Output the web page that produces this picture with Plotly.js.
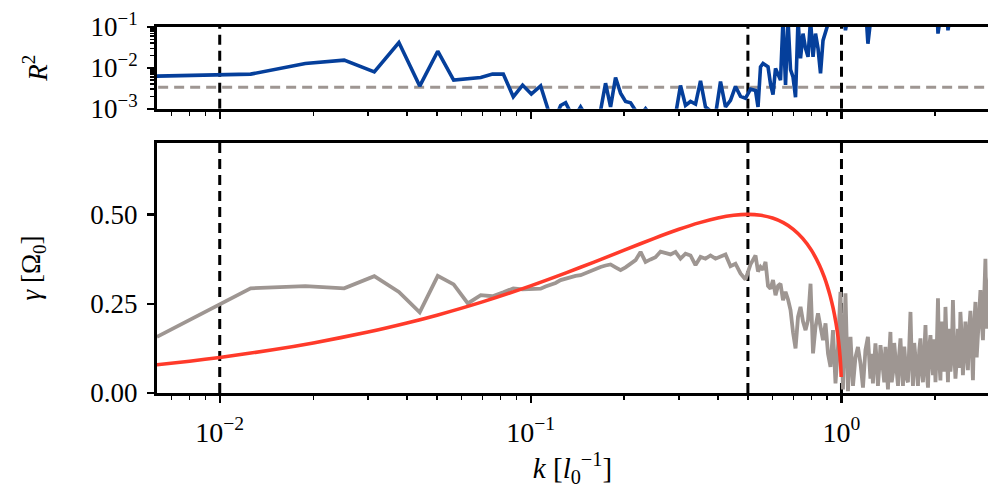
<!DOCTYPE html>
<html>
<head>
<meta charset="utf-8">
<script src="https://cdn.plot.ly/plotly-3.0.1.min.js"></script>
<style>html,body{margin:0;padding:0;background:#fff;overflow:hidden}#chart{width:988px;height:495px}</style>
</head>
<body>
<div id="chart"></div>
<script>
// wavenumber samples
const kVals = [
0.00628,0.01257,0.01885,0.02513,0.03142,0.03770,0.04398,0.05027,0.05655,0.06283,0.06912,0.07540,0.08168,0.08796,0.09425,0.10053,
0.1077,0.1117,0.1160,0.1203,0.1249,0.1296,0.1345,0.1395,0.1448,0.1502,0.1559,0.1618,0.1679,0.1742,0.1808,0.1876,0.1947,0.2020,0.2097,0.2176,0.2258,0.2343,0.2431,0.2522,0.2618,0.2716,0.2818,0.2925,0.3035,0.3150,0.3268,0.3392,0.3520,0.3652,0.3790,0.3933,0.4082,0.4236,0.4395,0.4561,0.4733,0.4912,0.5097,0.5290,
0.5389,0.5490,0.5593,0.5697,0.5803,0.5912,0.6022,0.6135,0.6250,0.6366,0.6485,0.6607,0.6730,0.6856,0.6984,0.7115,0.7248,0.7383,0.7521,0.7662,0.7805,0.7951,0.8100,0.8250,0.8404,0.8562,0.8722,0.8885,0.9051,0.9219,0.9391,0.9566,0.9745,0.9926,
1.0111,1.030,1.0492,1.069,1.0890,1.109,1.1297,1.151,1.1725,1.194,1.2163,
1.239,1.2506,1.2621,1.2739,1.286,1.2980,1.3100,1.3222,1.335,1.3475,1.3599,1.3726,1.385,1.3979,1.4109,1.4241,1.437,1.4504,1.4638,1.4775,1.492,1.5059,1.5199,1.5341,1.548,1.5624,1.5769,1.5916,1.606,1.6210,1.6360,1.6513,1.667,1.6826,1.6981,1.7139,1.730,1.7461,1.7623,1.7787,1.795,1.8117,1.8285,1.8456,1.863,1.8804,1.8978,1.9155,1.933,1.9510,1.9691,1.9875,2.006,2.0247,2.0435,2.0626,2.081,2.1004,2.1199,2.1397,2.160,2.1802,2.2003,2.2208,2.241,2.2619,2.2829,2.3042,2.326,2.3477,2.3694,2.3915,2.413,2.4355,2.4581,2.4810,2.504,2.5274,2.5508,2.5746,2.599,2.6232,2.6476,2.6723,2.697,2.7222,2.7474,2.7730,2.799,2.8251,2.8513,2.8779,2.904,2.9311,2.9582,2.9858,3.014
];
// measured growth rate gamma
const gammaVals = [
0.157,0.293,0.299,0.293,0.327,0.283,0.226,0.328,0.304,0.251,0.274,0.271,0.282,0.293,0.290,0.290,
0.292,0.298,0.302,0.308,0.316,0.320,0.325,0.328,0.330,0.336,0.342,0.348,0.353,0.357,0.360,0.352,0.344,0.352,0.362,0.372,0.395,0.367,0.374,0.380,0.396,0.392,0.388,0.395,0.376,0.390,0.385,0.358,0.381,0.376,0.385,0.376,0.381,0.388,0.355,0.362,0.335,0.318,0.360,0.385,
0.340,0.353,0.345,0.367,0.300,0.292,0.316,0.274,0.300,0.306,0.260,0.283,0.262,0.232,0.170,0.125,0.213,0.241,0.200,0.176,0.204,0.306,0.111,0.185,0.223,0.190,0.148,0.195,0.110,0.073,0.176,0.027,0.129,0.283,
0.010,0.279,0.005,0.157,0.020,0.100,0.129,0.083,0.015,0.120,0.157,
0.040,0.110,0.027,0.080,0.139,0.090,0.020,0.070,0.134,0.100,0.045,0.030,0.129,0.080,0.010,0.110,0.171,0.030,0.055,0.140,0.101,0.060,0.020,0.110,0.153,0.070,0.020,0.130,0.087,0.040,0.030,0.110,0.227,0.090,0.020,0.140,0.092,0.050,0.020,0.120,0.153,0.060,0.030,0.110,0.190,0.060,0.015,0.130,0.162,0.090,0.050,0.150,0.030,0.120,0.265,0.090,0.035,0.200,0.140,0.060,0.241,0.120,0.030,0.180,0.060,0.100,0.260,0.120,0.040,0.090,0.180,0.070,0.227,0.160,0.050,0.110,0.200,0.120,0.064,0.180,0.230,0.130,0.036,0.190,0.255,0.100,0.157,0.210,0.288,0.200,0.148,0.270,0.376,0.180,0.223,0.300,0.344
];
// fit quality R^2
const r2Vals = [
0.00627,0.00702,0.0128,0.0154,0.00798,0.0417,0.00358,0.0255,0.00501,0.0053,0.00583,0.00702,0.00702,0.00196,0.00378,0.00229,
0.0036,0.0015,0.0006,0.0006,0.0012,0.0014,0.0008,0.0007,0.0011,0.0007,0.0006,0.0007,0.0009,0.0042,0.0011,0.0058,0.0024,0.0015,0.0014,0.0009,0.0007,0.0010,0.0007,0.0006,0.0008,0.0006,0.0006,0.0007,0.0037,0.0012,0.0015,0.0013,0.0048,0.0011,0.0009,0.0007,0.0046,0.0011,0.0016,0.0035,0.0020,0.0018,0.0030,0.0028,
0.0011,0.0106,0.0128,0.0115,0.0106,0.0040,0.0022,0.0097,0.0066,0.0050,0.15,0.0038,0.15,0.0090,0.0060,0.0019,0.15,0.017,0.069,0.030,0.0186,0.15,0.0186,0.069,0.030,0.0073,0.047,0.09,0.15,0.2,0.3,0.2,0.35,0.25,
0.3,0.083,0.3,0.45,0.25,0.4,0.3,0.5,0.25,0.35,0.039,
0.3,0.4,0.45,0.4,0.3,0.4,0.5,0.4,0.3,0.4,0.45,0.4,0.3,0.4,0.5,0.4,0.35,0.4,0.4,0.4,0.3,0.4,0.5,0.4,0.3,0.4,0.45,0.4,0.3,0.4,0.5,0.4,0.35,0.4,0.4,0.4,0.3,0.4,0.5,0.4,0.3,0.4,0.45,0.4,0.3,0.4,0.5,0.4,0.35,0.4,0.4,0.4,0.25,0.4,0.069,0.4,0.3,0.4,0.45,0.4,0.2,0.4,0.083,0.4,0.3,0.4,0.45,0.4,0.3,0.4,0.5,0.4,0.35,0.4,0.4,0.4,0.3,0.4,0.5,0.4,0.3,0.4,0.45,0.4,0.3,0.4,0.5,0.4,0.35,0.4,0.4,0.4,0.3,0.4,0.5,0.4,0.3
];
// theoretical growth rate curve
const kTheory = [0.00628,0.008,0.01,0.015,0.02,0.03,0.04,0.05,0.07,0.1,0.13,0.16,0.2,0.25,0.3,0.35,0.4,0.45,0.5,0.55,0.6,0.65,0.7,0.75,0.8,0.85,0.88,0.9,0.92,0.94,0.96,0.97,0.98,0.99,0.995,0.998];
const gammaTheory = [0.0790,0.0891,0.0995,0.1216,0.1400,0.1706,0.1960,0.2179,0.2551,0.3000,0.3363,0.3666,0.4000,0.4330,0.4583,0.4770,0.4899,0.4975,0.5000,0.4975,0.4899,0.4770,0.4583,0.4330,0.4000,0.3571,0.3250,0.3000,0.2713,0.2375,0.1960,0.1706,0.1400,0.0995,0.0705,0.0447];
// reference markers
const markerK = [0.01, 0.5, 1.0];
const r2Threshold = [0.00333];
// ticks
const xTickVals = [0.01, 0.1, 1];
const xTickText = ['10<sup>−2</sup>', '10<sup>−1</sup>', '10<sup>0</sup>'];
const xMinorVals = [0.007,0.008,0.009,0.02,0.03,0.04,0.05,0.06,0.07,0.08,0.09,0.2,0.3,0.4,0.5,0.6,0.7,0.8,0.9,2,3];
const r2TickVals = [0.001, 0.01, 0.1];
const r2TickText = ['10<sup>−3</sup>', '10<sup>−2</sup>', '10<sup>−1</sup>'];
const r2MinorVals = [0.002,0.003,0.004,0.005,0.006,0.007,0.008,0.009,0.02,0.03,0.04,0.05,0.06,0.07,0.08,0.09];
const gTickVals = [0, 0.25, 0.5];
const gTickText = ['0.00', '0.25', '0.50'];

if (kVals.length !== gammaVals.length || kVals.length !== r2Vals.length) {
  throw new Error('length mismatch k=' + kVals.length + ' g=' + gammaVals.length + ' r=' + r2Vals.length);
}

const FONT = 'Liberation Serif, DejaVu Serif, serif';
const GREY = 'rgb(158,150,146)';
const BLUE = 'rgb(5,63,155)';
const RED = 'rgb(255,58,42)';
const G_RANGE = [0, 0.7];
const R_RANGE = [0.001, 0.1];
const X_RANGE = [-2.2018, 0.4713];
const DASH = '10px,6px';

const traces = [];
markerK.forEach(k => {
  traces.push({x:[k,k], y:G_RANGE, xaxis:'x', yaxis:'y', mode:'lines', line:{color:'black', width:3, dash:DASH}, hoverinfo:'skip'});
  traces.push({x:[k,k], y:R_RANGE, xaxis:'x2', yaxis:'y2', mode:'lines', line:{color:'black', width:3, dash:DASH}, hoverinfo:'skip'});
});
traces.push({x:[0.005, 4], y:[r2Threshold[0], r2Threshold[0]], xaxis:'x2', yaxis:'y2', mode:'lines', line:{color:GREY, width:3, dash:DASH}});
traces.push({x:kVals, y:gammaVals, xaxis:'x', yaxis:'y', mode:'lines', line:{color:GREY, width:3.8}});
traces.push({x:kTheory, y:gammaTheory, xaxis:'x', yaxis:'y', mode:'lines', line:{color:RED, width:3.6, shape:'spline', smoothing:0.6}});
traces.push({x:kVals, y:r2Vals, xaxis:'x2', yaxis:'y2', mode:'lines', line:{color:BLUE, width:3.6}});

const xCommon = {
  type:'log', range:X_RANGE, showgrid:false, zeroline:false,
  showline:true, linecolor:'black', linewidth:3, mirror:true,
  ticks:'outside', ticklen:7, tickwidth:2.2, tickcolor:'black',
  tickmode:'array', tickvals:xTickVals, ticktext:xTickText,
  minor:{ticks:'outside', ticklen:4, tickwidth:1.6, tickcolor:'black', tickmode:'array', tickvals:xMinorVals, showgrid:false},
  tickfont:{family:FONT, size:28, color:'black'}
};

const layout = {
  width:988, height:495,
  margin:{l:157, r:0, t:27, b:102},
  paper_bgcolor:'white', plot_bgcolor:'white',
  showlegend:false,
  font:{family:FONT, size:27, color:'black'},
  xaxis: Object.assign({}, xCommon, {
    anchor:'y', domain:[0,1], ticklabelstandoff:5,
    title:{text:'<i>k</i> [<i>l</i><sub>0</sub><sup>−1</sup>]', font:{family:FONT, size:29}, standoff:8}
  }),
  xaxis2: Object.assign({}, xCommon, {anchor:'y2', domain:[0,1], showticklabels:false}),
  yaxis: {
    anchor:'x', domain:[0, 0.6831], range:G_RANGE, showgrid:false, zeroline:false,
    showline:true, linecolor:'black', linewidth:3, mirror:false,
    ticks:'outside', ticklen:7, tickwidth:2.2, tickcolor:'black',
    tickmode:'array', tickvals:gTickVals, ticktext:gTickText,
    tickfont:{family:FONT, size:27, color:'black'}, ticklabelstandoff:4,
    title:{text:'<i>γ</i> [Ω<sub>0</sub>]', font:{family:FONT, size:27}, standoff:42}
  },
  yaxis2: {
    anchor:'x2', domain:[0.7768, 1], type:'log', range:[-3, -1], showgrid:false, zeroline:false,
    showline:true, linecolor:'black', linewidth:3, mirror:false,
    ticks:'outside', ticklen:7, tickwidth:2.2, tickcolor:'black',
    tickmode:'array', tickvals:r2TickVals, ticktext:r2TickText,
    minor:{ticks:'outside', ticklen:4, tickwidth:1.6, tickcolor:'black', tickmode:'array', tickvals:r2MinorVals, showgrid:false},
    tickfont:{family:FONT, size:27, color:'black'}, ticklabelstandoff:4,
    title:{text:'<i>R</i><sup>2</sup>', font:{family:FONT, size:27}, standoff:36}
  }
};

Plotly.newPlot('chart', traces, layout, {staticPlot:true, displayModeBar:false});
</script>
</body>
</html>
